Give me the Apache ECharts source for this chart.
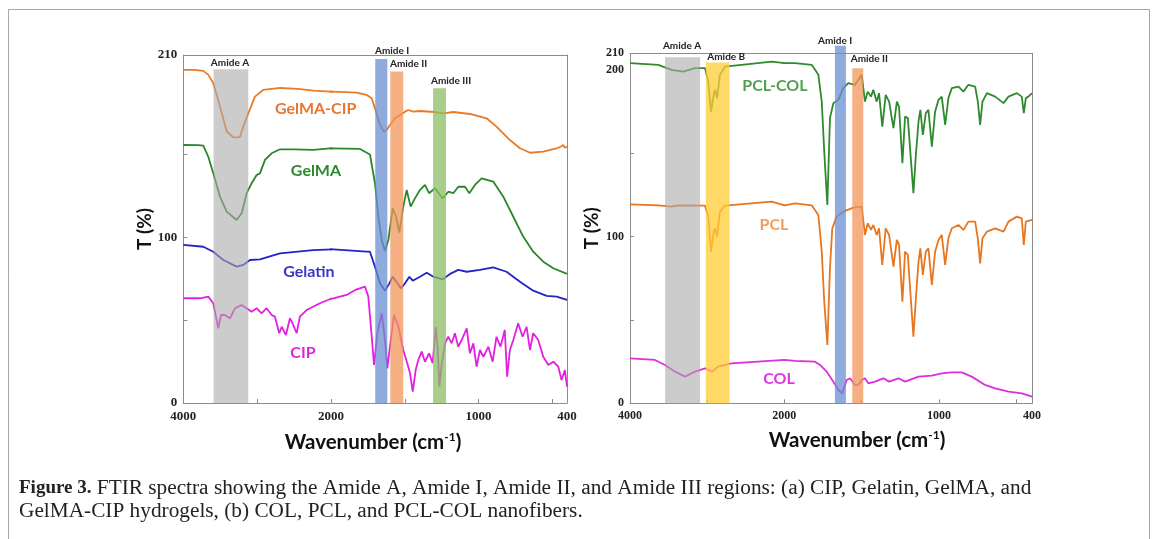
<!DOCTYPE html>
<html>
<head>
<meta charset="utf-8">
<script src="https://cdn.jsdelivr.net/npm/echarts@6/dist/echarts.min.js"></script>
<style>
  html, body { margin: 0; padding: 0; background: #fff; }
  #chart { width: 1166px; height: 539px; }
</style>
</head>
<body>
<div id="chart"></div>
<script>
// spectra: [wavenumber cm-1, T %]
// (a) hydrogels
var gelmaCip = [[4000,201],[3850,201],[3729,200.4],[3660,198],[3594,193],[3503,179],[3413,164],[3323,160.3],[3233,160.5],[3188,166.8],[3120,174.8],[3030,184.9],[2918,188.9],[2690,190.1],[2450,189.5],[2240,188.5],[2060,188.1],[1900,187.6],[1826,187.3],[1760,186],[1724,183.9],[1702,177.8],[1668,167.8],[1640,163.7],[1620,165],[1600,167.8],[1566,171.8],[1532,173.8],[1498,175.8],[1476,176.8],[1442,175.8],[1397,176.2],[1300,175.6],[1239,174.8],[1171,175.6],[1058,174.4],[945,171.8],[878,166.8],[787,158.7],[719,153.7],[651,151],[561,151.7],[470,153.7],[440,154.8],[425,155.7],[415,154],[400,154.7]];
var gelma = [[4000,155.7],[3800,155.6],[3729,155.3],[3662,148.6],[3594,138.6],[3503,124.5],[3413,115.5],[3278,110.4],[3210,114.5],[3142,126.6],[3075,132.6],[3007,137.6],[2962,138.6],[2894,146.7],[2804,150.7],[2690,153.1],[2500,153],[2240,152.7],[2014,153.7],[1803,153.3],[1736,150],[1702,132.6],[1679,112.4],[1656,98.4],[1634,91.7],[1611,98.4],[1582,117.5],[1559,112.4],[1537,102.8],[1510,118.5],[1487,128.5],[1460,118.5],[1431,123.5],[1397,128.5],[1363,131.6],[1335,126.6],[1295,129.6],[1243,123.5],[1205,127.5],[1171,126.6],[1137,130.5],[1092,130.5],[1062,126.6],[1024,131.6],[979,135.6],[900,133.6],[832,124.5],[764,112.4],[697,100.4],[629,91.3],[561,85.3],[493,81.3],[400,77.9]];
var gelatin = [[4000,95.4],[3729,94.3],[3594,91.3],[3458,86.3],[3278,82.3],[3188,83.3],[3097,86.3],[2962,86.7],[2872,87.9],[2690,90.3],[2240,92.3],[1984,92.7],[1758,91.3],[1736,91.3],[1702,82.3],[1668,72.2],[1634,67.8],[1604,72.2],[1582,76.2],[1549,72.2],[1527,69.2],[1498,72.2],[1469,76.2],[1446,73.8],[1397,76.2],[1351,78.6],[1306,76.2],[1243,74.6],[1193,77.9],[1137,80.3],[1080,79.2],[990,80.3],[900,81.9],[810,79.2],[719,73.2],[629,67.8],[538,64.6],[470,64.2],[400,62.2]];
var cip = [[4000,63.2],[3774,63.2],[3662,64.2],[3594,60.2],[3558,52.1],[3526,45.1],[3490,53.1],[3436,53.1],[3368,51.1],[3300,57.2],[3210,59.1],[3142,57.2],[3075,55.1],[3007,57.2],[2940,54.1],[2872,57.2],[2804,53.1],[2759,52.1],[2701,42.1],[2668,46],[2610,41],[2556,51.1],[2520,48.1],[2465,42.1],[2421,52.1],[2330,56.1],[2150,60.2],[1984,63.2],[1894,65.2],[1826,68.6],[1769,70.2],[1747,64.2],[1724,40],[1708,23],[1686,42.1],[1656,54.1],[1634,38],[1618,20.9],[1595,38],[1573,53.1],[1543,46],[1510,32],[1483,24],[1464,17.9],[1446,6.8],[1426,19.9],[1408,26],[1385,31],[1363,24.9],[1335,30],[1311,24],[1290,46],[1276,32],[1265,9.8],[1249,24],[1227,36],[1205,40],[1182,36],[1160,42.1],[1137,34],[1114,38],[1080,45.1],[1058,30],[1035,36],[1013,21.9],[990,32],[967,27.9],[933,34],[904,24.9],[878,40],[851,34],[822,44.1],[806,15.9],[787,32],[764,38],[731,48.1],[701,40],[674,46],[651,32],[629,42.1],[595,38],[561,27.9],[527,22.9],[493,24.9],[459,21.9],[437,13.9],[414,19.9],[400,9.8]];

// (b) nanofibers
var pclCol = [[4000,204.1],[3633,203.1],[3460,200.1],[3309,199],[3158,201.1],[3028,201.1],[2985,193],[2950,175],[2915,185.1],[2898,188.1],[2872,183.1],[2834,197.1],[2769,202],[2553,203.1],[2164,205],[1996,204.1],[1931,204.1],[1823,203.1],[1780,197.1],[1758,181],[1742,151],[1722,119],[1705,171.1],[1683,180.1],[1651,182.1],[1619,189.1],[1587,192.1],[1543,191.1],[1500,197.1],[1479,181],[1461,187],[1440,184],[1425,188.1],[1403,181],[1388,186.1],[1367,166],[1345,185.1],[1323,181],[1295,165.1],[1273,181],[1259,178],[1237,144.1],[1220,172],[1202,171.1],[1183,147.1],[1166,126.1],[1150,149.1],[1133,169.1],[1121,176.1],[1105,161],[1086,174.1],[1069,176.1],[1047,154],[1026,175],[1004,182.1],[983,184],[961,167.1],[940,183.1],[918,189.1],[875,190],[843,187],[811,191.1],[767,190],[750,181],[735,167.1],[720,181],[691,186.1],[638,184],[584,180.1],[552,184],[498,186.1],[466,184],[453,174.1],[440,183.1],[423,184],[400,186.1]];
var pcl = [[4000,119.4],[3633,118.8],[3460,118],[3374,118.8],[3028,118.6],[2985,112],[2950,91],[2915,103],[2898,105],[2872,100],[2834,115],[2769,118.6],[2164,121],[1996,118.8],[1931,120],[1823,118.8],[1780,113],[1758,91],[1742,61],[1722,35],[1705,81],[1690,105],[1662,112],[1619,115],[1554,117.4],[1500,118],[1479,101],[1461,108],[1440,104],[1425,107],[1403,101],[1388,105],[1367,83],[1345,105],[1323,101],[1295,82],[1273,98],[1259,95],[1237,61],[1220,91],[1202,89],[1183,63],[1166,40],[1150,63],[1133,85],[1121,93],[1105,77],[1086,91],[1069,93],[1047,71],[1026,91],[1004,98],[983,101],[961,83],[940,99],[918,105],[875,107],[843,104],[811,109],[767,109],[750,99],[735,84],[720,99],[691,103],[638,105],[584,103],[552,109],[498,112],[466,111],[453,95],[440,109],[400,110]];
var col = [[4000,27],[3676,26],[3546,23],[3416,19],[3287,16],[3158,19],[3028,21],[2936,19],[2859,22],[2686,24],[2341,25],[1996,26],[1931,25.4],[1802,25],[1769,23],[1726,19],[1683,13],[1651,8],[1626,6],[1597,14],[1576,15],[1543,11],[1522,11],[1500,14],[1479,15],[1457,12],[1414,13],[1360,15],[1323,13],[1262,15],[1220,13],[1133,16],[1047,16.6],[983,18],[918,18.6],[854,18.6],[789,16],[703,11],[638,9],[552,7],[466,6],[400,4]];

// highlighted regions: [from, to, top]
var bandsHydrogel = [[3590,3120,201.4],[1700,1618,207.6],[1598,1510,200],[1308,1220,190]];
var bandsFiber = [[3545,3091,207.7],[3017,2710,204.5],[1673,1602,214.5],[1561,1490,201.1]];
var bandNamesHydrogel = ['Amide A', 'Amide I', 'Amide II', 'Amide III'];
var bandNamesFiber = ['Amide A', 'Amide B', 'Amide I', 'Amide II'];
// where each band name sits: [wavenumber, T]
var bandLabelAtHydrogel = [[3368,205.4],[1702,212.4],[1600,204.6],[1322,194.5]];
var bandLabelAtFiber = [[3326,214.5],[2998,208],[1672,217.5],[1571,206.7]];

// curve names and where they sit: [wavenumber, T]
var namesHydrogel = ['GelMA-CIP', 'GelMA', 'Gelatin', 'CIP'];
var nameAtHydrogel = [[2208,177.4],[2204,140.2],[2299,79.2],[2380,30.4]];
var namesFiber = ['PCL-COL', 'PCL', 'COL'];
var nameAtFiber = [[2121,190.5],[2134,107],[2069,14.4]];

var yTicksHydrogel = [0, 100, 210];
var yTicksFiber = [0, 100, 200, 210];
var xTicksHigh = [4000];
var xTicksLow = [2000, 1000, 400];

// ---- styling ----
var lineColorsHydrogel = ['#e97a26', '#2a862a', '#2323c4', '#e21fe2'];
var nameColorsHydrogel = ['#e8772e', '#2c8a2c', '#3636c8', '#e024e0'];
var lineColorsFiber = ['#2f8a2f', '#e8761e', '#dc2edc'];
var nameColorsFiber = ['#52a052', '#f09e5e', '#df36df'];
var bandColor = {
  'Amide A': 'rgba(170,170,170,0.6)',
  'Amide B': 'rgba(255,204,51,0.75)',
  'Amide I': 'rgba(105,141,210,0.75)',
  'Amide II': 'rgba(240,150,90,0.75)',
  'Amide III': 'rgba(140,190,100,0.75)'
};
var frameColor = '#8c8c8c';
var sans = 'Lato, "Open Sans", sans-serif';
var serif = '"Liberation Serif", "DejaVu Serif", serif';

var dom = document.getElementById('chart');
var myChart = echarts.init(dom);

// the x scale changes at 2000 cm-1, so each panel is two grids side by side
var panels = [
  { left: 183.3, split: 331, right: 567, top: 55, bottom: 403 },
  { left: 630, split: 784.3, right: 1032, top: 53.3, bottom: 403.3 }
];

// keep points in [lo, hi] plus the neighbours just outside, the grid clip cuts the rest
function part(pts, lo, hi) {
  var out = [];
  function inside(p) { return p && p[0] >= lo && p[0] <= hi; }
  for (var i = 0; i < pts.length; i++) {
    if (inside(pts[i]) || inside(pts[i - 1]) || inside(pts[i + 1])) out.push(pts[i]);
  }
  return out;
}

function plain(v) { return String(v); }

var grid = [], xAxis = [], yAxis = [], series = [];

function addPanel(pi, curves, lineColors, bands, bandNames, bandLabelAt, names, nameAt, nameColors, yTicks, yFont) {
  var p = panels[pi];
  var gA = grid.length, gB = gA + 1;
  grid.push({ left: p.left, top: p.top, width: p.split - p.left, height: p.bottom - p.top });
  grid.push({ left: p.split, top: p.top, width: p.right - p.split, height: p.bottom - p.top });

  var tickLabel = { fontFamily: serif, fontWeight: 'bold', fontSize: yFont, color: '#222', formatter: plain };
  var frameLine = { show: true, onZero: false, lineStyle: { color: frameColor } };
  var xA = xAxis.length;
  xAxis.push({
    type: 'value', gridIndex: gA, min: 2000, max: 4000, inverse: true,
    axisLine: frameLine,
    axisTick: { inside: true, length: 4, lineStyle: { color: frameColor }, customValues: [3000] },
    axisLabel: Object.assign({ margin: 7, customValues: xTicksHigh }, tickLabel),
    splitLine: { show: false }
  });
  xAxis.push({
    type: 'value', gridIndex: gB, min: 400, max: 2000, inverse: true,
    axisLine: frameLine,
    axisTick: { inside: true, length: 4, lineStyle: { color: frameColor }, customValues: [2000, 1500, 1000, 500] },
    axisLabel: Object.assign({ margin: 7, customValues: xTicksLow }, tickLabel),
    splitLine: { show: false }
  });
  // top edge of the frame
  [gA, gB].forEach(function (g) {
    xAxis.push({
      type: 'value', gridIndex: g, position: 'top', min: 0, max: 1,
      axisLine: frameLine,
      axisTick: { show: false }, axisLabel: { show: false }, splitLine: { show: false }
    });
  });

  var yA = yAxis.length;
  yAxis.push({
    type: 'value', gridIndex: gA, min: 0, max: 210,
    name: 'T (%)', nameLocation: 'middle', nameGap: 29, nameRotate: 90, nameMoveOverlap: false,
    nameTextStyle: { fontFamily: sans, fontWeight: 'bold', fontSize: 19, color: '#111' },
    axisLine: frameLine,
    axisTick: { show: true, inside: true, length: 4, lineStyle: { color: frameColor }, customValues: [50, 100, 150] },
    axisLabel: Object.assign({ margin: 6, customValues: yTicks }, tickLabel),
    splitLine: { show: false }
  });
  yAxis.push({
    type: 'value', gridIndex: gB, position: 'right', min: 0, max: 210,
    axisLine: frameLine,
    axisTick: { show: false }, axisLabel: { show: false }, splitLine: { show: false }
  });

  curves.forEach(function (c, i) {
    [[gA, xA, 2000, 4000], [gB, xA + 1, 400, 2000]].forEach(function (s) {
      series.push({
        type: 'line', name: names[i], xAxisIndex: s[1], yAxisIndex: s[0] === gA ? yA : yA + 1,
        data: part(c, s[2], s[3]), showSymbol: false, symbol: 'none', silent: true,
        lineStyle: { width: 1.8, color: lineColors[i] }, z: 2
      });
    });
  });

  // bands go over the spectra, like the translucent boxes of the figure
  var hi = [], lo = [], hiNames = [], loNames = [], hiLab = [], loLab = [];
  bands.forEach(function (b, i) {
    if (b[0] > 2000) { hi.push(b); hiNames.push(bandNames[i]); hiLab.push(bandLabelAt[i]); }
    else { lo.push(b); loNames.push(bandNames[i]); loLab.push(bandLabelAt[i]); }
  });
  [[hi, hiNames, hiLab, xA, yA], [lo, loNames, loLab, xA + 1, yA + 1]].forEach(function (set) {
    var nm = set[1];
    series.push({
      type: 'custom', xAxisIndex: set[3], yAxisIndex: set[4], data: set[0], clip: false, silent: true, z: 3,
      renderItem: function (params, api) {
        var a = api.coord([api.value(0), api.value(2)]);
        var b = api.coord([api.value(1), 0]);
        return {
          type: 'rect',
          shape: { x: Math.min(a[0], b[0]), y: a[1], width: Math.abs(b[0] - a[0]), height: b[1] - a[1] },
          style: { fill: bandColor[nm[params.dataIndex]] }
        };
      }
    });
    series.push({
      type: 'custom', xAxisIndex: set[3], yAxisIndex: set[4], data: set[2], clip: false, silent: true, z: 4,
      renderItem: function (params, api) {
        var pt = api.coord([api.value(0), api.value(1)]);
        var name = nm[params.dataIndex];
        return {
          type: 'text', x: pt[0], y: pt[1],
          style: {
            text: name, fill: '#222', fontFamily: sans, fontWeight: 'bold', fontSize: 10,
            align: name === 'Amide A' || (pi === 1 && name === 'Amide I') ? 'center' : 'left',
            verticalAlign: 'middle'
          }
        };
      }
    });
  });

  series.push({
    type: 'custom', xAxisIndex: xA, yAxisIndex: yA, data: nameAt, clip: false, silent: true, z: 4,
    renderItem: function (params, api) {
      var pt = api.coord([api.value(0), api.value(1)]);
      return {
        type: 'text', x: pt[0], y: pt[1],
        style: {
          text: names[params.dataIndex], fill: nameColors[params.dataIndex],
          fontFamily: sans, fontWeight: 'bold', fontSize: 16, align: 'center', verticalAlign: 'middle'
        }
      };
    }
  });
}

addPanel(0, [gelmaCip, gelma, gelatin, cip], lineColorsHydrogel, bandsHydrogel, bandNamesHydrogel,
  bandLabelAtHydrogel, namesHydrogel, nameAtHydrogel, nameColorsHydrogel, yTicksHydrogel, 13);
addPanel(1, [pclCol, pcl, col], lineColorsFiber, bandsFiber, bandNamesFiber,
  bandLabelAtFiber, namesFiber, nameAtFiber, nameColorsFiber, yTicksFiber, 12);

var waveTitle = function (x, y) {
  return {
    type: 'text', x: x, y: y, silent: true,
    style: {
      text: '{n|Wavenumber (cm}{s|-1}{n|)}',
      align: 'center', verticalAlign: 'middle',
      rich: {
        n: { fontFamily: sans, fontWeight: 'bold', fontSize: 20.5, fill: '#111', color: '#111' },
        s: { fontFamily: sans, fontWeight: 'bold', fontSize: 12, fill: '#111', color: '#111', verticalAlign: 'top' }
      }
    }
  };
};

var option = {
  animation: false,
  grid: grid,
  xAxis: xAxis,
  yAxis: yAxis,
  series: series,
  graphic: [
    {
      type: 'rect', silent: true, z: -1,
      shape: { x: 8.5, y: 9.5, width: 1141, height: 560 },
      style: { fill: 'none', stroke: '#a6a6a6', lineWidth: 1 }
    },
    waveTitle(373, 442),
    waveTitle(857, 440),
    {
      type: 'text', x: 19, y: 477, silent: true,
      style: {
        text: '{b|Figure 3.} FTIR spectra showing the Amide A, Amide I, Amide II, and Amide III regions: (a) CIP, Gelatin, GelMA, and\nGelMA-CIP hydrogels, (b) COL, PCL, and PCL-COL nanofibers.',
        fontFamily: serif, fontSize: 21.3, fill: '#222', lineHeight: 23,
        rich: {
          b: { fontFamily: serif, fontSize: 19, fontWeight: 'bold', fill: '#222', lineHeight: 23 }
        }
      }
    }
  ]
};

myChart.setOption(option);
</script>
</body>
</html>
